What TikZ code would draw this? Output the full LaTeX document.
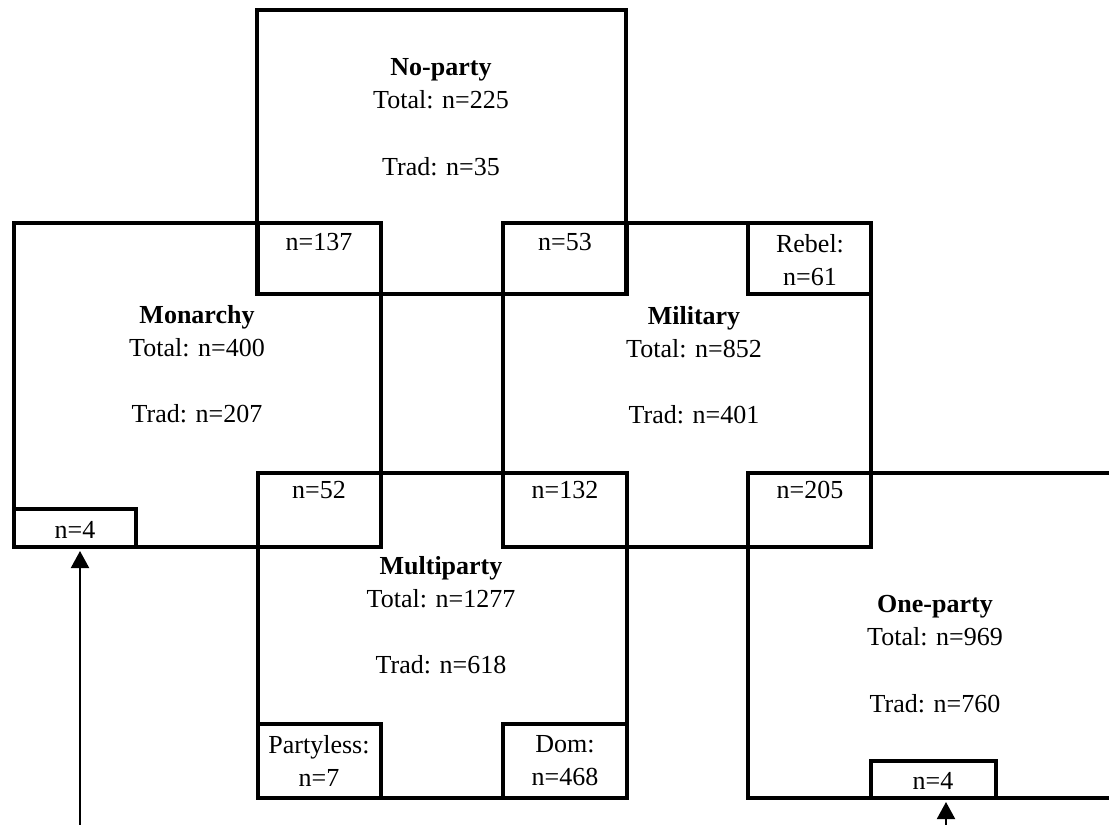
\documentclass[tikz,border=0pt]{standalone}
\usepackage{fontspec}
\setmainfont{Liberation Serif}
\usetikzlibrary{arrows.meta}
\begin{document}
\begin{tikzpicture}[x=1pt,y=-1pt,
  box/.style={draw, line width=4pt, inner sep=0pt, minimum width=#1},
  box/.default=123pt,
  txt/.style={font=\fontsize{26}{33}\selectfont, align=center, inner sep=0pt},
  arr/.style={line width=2pt, -{Triangle[width=18pt,length=17pt]}, shorten >=2pt}]
\useasboundingbox (0,0) rectangle (1109,825);
% big boxes
\node[box=369pt, minimum height=284pt] (noparty) at (441.5,152) {};
\node[box=367pt, minimum height=324pt] (monarchy) at (197.5,385) {};
\node[box=368pt, minimum height=324pt] (military) at (687,385) {};
\node[box=369pt, minimum height=325pt] (multiparty) at (442.5,635.5) {};
\coordinate (op1) at (1109,473);
\coordinate (op2) at (748,473);
\coordinate (op3) at (748,798);
\coordinate (op4) at (1109,798);
\draw[line width=4pt] (op1) -- (op2) -- (op3) -- (op4);
% small boxes
\node[box, minimum height=71pt] (n137) at (319.5,258.5) {};
\node[box=124pt, minimum height=71pt] (n53) at (565,258.5) {};
\node[box, minimum height=71pt] (rebel) at (809.5,258.5) {};
\node[box, minimum height=74pt] (n52) at (319.5,510) {};
\node[box=124pt, minimum height=74pt] (n132) at (565,510) {};
\node[box, minimum height=74pt] (n205) at (809.5,510) {};
\node[box=122pt, minimum height=38pt] (m4) at (75,528) {};
\node[box, minimum height=74pt] (partyless) at (319.5,761) {};
\node[box=124pt, minimum height=74pt] (dom) at (565,761) {};
\node[box=125pt, minimum height=37pt] (o4) at (933.5,779.5) {};
% big box texts
\node[txt] (tnoparty) at (441,117) {\textbf{No-party}\\Total: n=225\\[34pt]Trad: n=35};
\node[txt] (tmonarchy) at (197,364) {\textbf{Monarchy}\\Total: n=400\\[33pt]Trad: n=207};
\node[txt] (tmilitary) at (694,365) {\textbf{Military}\\Total: n=852\\[33pt]Trad: n=401};
\node[txt] (tmultiparty) at (441,615) {\textbf{Multiparty}\\Total: n=1277\\[33pt]Trad: n=618};
\node[txt] (toneparty) at (935,654) {\textbf{One-party}\\Total: n=969\\[34pt]Trad: n=760};
% small box texts
\node[txt] (t137) at (319,242) {n=137};
\node[txt] (t53) at (565,242) {n=53};
\node[txt] (trebel) at (810,260) {Rebel:\\n=61};
\node[txt] (t52) at (319,490) {n=52};
\node[txt] (t132) at (565,490) {n=132};
\node[txt] (t205) at (810,490) {n=205};
\node[txt] (tm4) at (75,530) {n=4};
\node[txt] (tpartyless) at (319,761) {Partyless:\\n=7};
\node[txt] (tdom) at (565,761) {Dom:\\n=468};
\node[txt] (to4) at (933,781) {n=4};
% arrows
\coordinate (a1) at (80,825);
\coordinate (a2) at (946,825);
\draw[arr] (a1) -- (a1 |- m4.south);
\draw[arr] (a2) -- (a2 |- o4.south);
\end{tikzpicture}
\end{document}
